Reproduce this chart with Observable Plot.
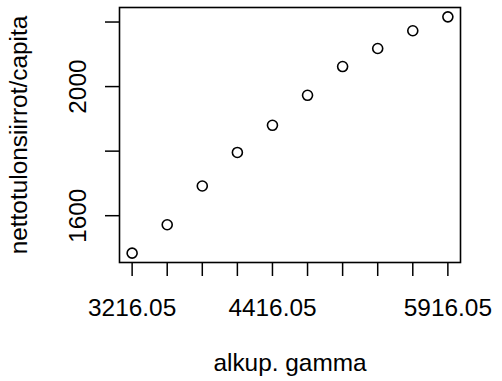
<!DOCTYPE html>
<html>
<head>
<meta charset="utf-8">
<script src="https://cdn.jsdelivr.net/npm/d3@7"></script>
<script src="https://cdn.jsdelivr.net/npm/@observablehq/plot@0.6"></script>
<style>
  html, body { margin: 0; padding: 0; background: #fff; }
  #chart svg { display: block; font-family: "Liberation Sans", Arial, Helvetica, sans-serif; }
</style>
</head>
<body>
<div id="chart"></div>
<script>
// Data
const gamma = [3216.05, 3516.05, 3816.05, 4116.05, 4416.05, 4716.05, 5016.05, 5316.05, 5616.05, 5916.05];
const transfers = [1484, 1572, 1692, 1796, 1880, 1973, 2062, 2118, 2173, 2216];
const xTickValues = gamma;
const xTickLabels = [3216.05, 4416.05, 5916.05];
const yTickValues = [1600, 1800, 2000, 2200];
const yTickLabels = [1600, 2000];
const xTitle = "alkup. gamma";
const yTitle = "nettotulonsiirrot/capita";

const data = gamma.map((g, i) => ({x: g, y: transfers[i]}));

const FS = 24.4;
const chart = Plot.plot({
  width: 502,
  height: 381,
  marginLeft: 119,
  marginRight: 42,
  marginTop: 7,
  marginBottom: 119,
  style: {fontSize: FS + "px", fontFamily: '"Liberation Sans", Arial, Helvetica, sans-serif', color: "black", background: "white"},
  x: {domain: [3108.05, 6024.05]},
  y: {domain: [1455, 2245]},
  marks: [
    Plot.frame({stroke: "black", strokeWidth: 1.6}),
    Plot.dot(data, {x: "x", y: "y", r: 5, stroke: "black", strokeWidth: 1.6, fill: "none"}),
    Plot.axisX({
      ticks: xTickValues,
      tickSize: 14,
      tickPadding: 22,
      strokeWidth: 1.5,
      fontSize: FS,
      tickFormat: d => xTickLabels.includes(d) ? d.toFixed(2) : "",
      label: xTitle,
      labelAnchor: "center",
      labelArrow: "none",
      labelOffset: 108
    }),
    Plot.axisY({
      ticks: yTickValues,
      tickSize: 14,
      strokeWidth: 1.5,
      tickFormat: () => "",
      label: yTitle,
      labelAnchor: "center",
      labelArrow: "none",
      fontSize: FS,
      labelOffset: 110
    }),
    Plot.axisY({
      ticks: yTickValues,
      tickSize: 0,
      tickPadding: 34,
      fontSize: FS,
      rotate: -90,
      textAnchor: "middle",
      lineAnchor: "bottom",
      tickFormat: d => yTickLabels.includes(d) ? String(d) : "",
      label: null
    })
  ]
});
document.getElementById("chart").appendChild(chart);
</script>
</body>
</html>
